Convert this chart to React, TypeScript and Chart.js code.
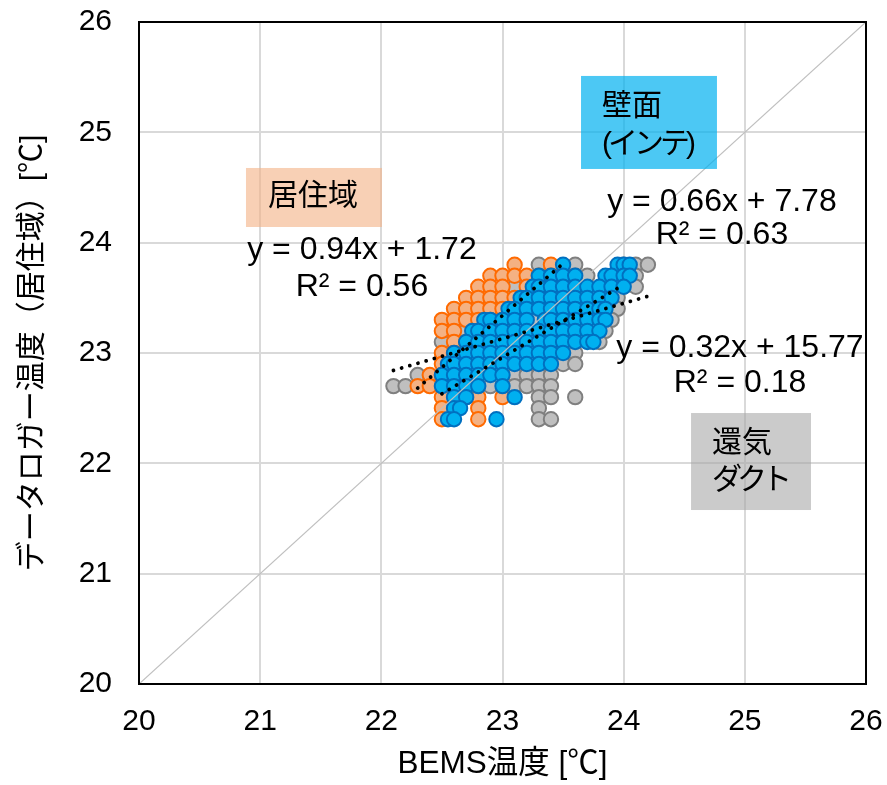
import React, { useEffect, useRef } from "react";
import { Chart, registerables } from "chart.js";

Chart.register(...registerables);

const FONT = "'Liberation Sans', Arial, 'Noto Sans CJK JP', sans-serif";

// ---- axis ----
const axisMin = 20;
const axisMax = 26;
const axisStep = 1;
const xTitle = "BEMS温度 [℃]";
const yTitle = "データロガー温度（居住域）[℃]";

// ---- series names ----
const seriesNames = ["居住域", "壁面", "還気"];

// ---- 居住域 (orange): rows of datalogger temp (y) with BEMS temps (x) ----
const residentialY = [23.8, 23.7, 23.6, 23.5, 23.4, 23.3, 23.2, 23.1, 23.0, 22.9, 22.8, 22.7, 22.6, 22.5, 22.4];
const residentialX = [
  [23.1, 23.4],
  [22.9, 23.0, 23.1, 23.2, 23.3, 23.4],
  [22.8, 22.9, 23.0, 23.2, 23.3],
  [22.7, 22.8, 22.9, 23.0, 23.1, 23.2],
  [22.6, 22.7, 22.8, 22.9, 23.0, 23.1],
  [22.5, 22.6, 22.7, 22.8, 22.9, 23.0],
  [22.5, 22.6, 22.8, 22.9],
  [22.6, 22.7, 22.8],
  [22.5, 22.6],
  [22.5, 22.6],
  [22.4, 22.5],
  [22.3, 22.4],
  [22.5, 22.8, 23.0],
  [22.5, 22.8],
  [22.5, 22.8],
];

// ---- 壁面 (blue) ----
const wallY = [23.8, 23.7, 23.6, 23.5, 23.4, 23.3, 23.2, 23.1, 23.0, 22.9, 22.8, 22.7, 22.6, 22.5, 22.4];
const wallX = [
  [23.5, 23.95, 24.0, 24.05],
  [23.3, 23.4, 23.5, 23.6, 23.85, 23.9, 24.0, 24.05],
  [23.25, 23.3, 23.4, 23.5, 23.6, 23.7, 23.8, 23.9, 24.0],
  [23.15, 23.2, 23.3, 23.4, 23.5, 23.6, 23.7, 23.8, 23.9],
  [23.05, 23.1, 23.2, 23.3, 23.4, 23.5, 23.6, 23.7, 23.8, 23.85],
  [22.85, 22.9, 23.0, 23.1, 23.2, 23.35, 23.4, 23.5, 23.6, 23.7, 23.8, 23.85],
  [22.75, 22.8, 22.9, 23.0, 23.1, 23.2, 23.3, 23.4, 23.5, 23.6, 23.7, 23.8],
  [22.7, 22.8, 22.9, 23.0, 23.1, 23.2, 23.3, 23.4, 23.5, 23.6, 23.7, 23.75],
  [22.6, 22.7, 22.8, 22.9, 23.0, 23.1, 23.2, 23.3, 23.4, 23.5],
  [22.55, 22.6, 22.7, 22.8, 22.9, 23.0, 23.1, 23.2, 23.3, 23.4],
  [22.5, 22.6, 22.7, 22.8, 22.9, 23.0],
  [22.5, 22.6, 22.7, 22.8, 23.0],
  [22.6, 22.7, 23.1],
  [22.6, 22.65],
  [22.55, 22.6, 22.95],
];

// ---- 還気ダクト (grey) ----
const ductY = [23.8, 23.7, 23.6, 23.5, 23.4, 23.3, 23.2, 23.1, 23.0, 22.9, 22.8, 22.7, 22.6, 22.5, 22.4];
const ductX = [
  [23.3, 23.6, 24.0, 24.1, 24.2],
  [23.1, 23.6, 23.7, 24.0, 24.1],
  [23.1, 23.5, 23.9, 24.0, 24.1],
  [23.3, 23.6, 23.9, 23.95],
  [23.0, 23.4, 23.9, 23.95],
  [22.9, 23.25, 23.6, 23.9],
  [22.7, 23.0, 23.5, 23.85],
  [22.5, 22.8, 23.3, 23.8],
  [22.6, 23.0, 23.6],
  [22.6, 23.0, 23.5, 23.6],
  [22.3, 22.6, 23.1, 23.2, 23.3, 23.4],
  [22.1, 22.2, 22.5, 22.9, 23.1, 23.2, 23.3, 23.4],
  [22.7, 23.3, 23.4, 23.6],
  [23.3],
  [23.3, 23.4],
];

// ---- linear trendlines: slope, intercept, R², x-range ----
const trendSlope = [0.94, 0.66, 0.32];
const trendIntercept = [1.72, 7.78, 15.77];
const trendR2 = [0.56, 0.63, 0.18];
const trendXMin = [22.3, 22.5, 22.1];
const trendXMax = [23.5, 24.0, 24.2];

const toPoints = (ys: number[], xs: number[][]) =>
  ys.flatMap((y, i) => xs[i].map((x) => ({ x, y })));

const fitLine = (i: number) => [
  { x: trendXMin[i], y: trendSlope[i] * trendXMin[i] + trendIntercept[i] },
  { x: trendXMax[i], y: trendSlope[i] * trendXMax[i] + trendIntercept[i] },
];

// ---- annotation layout (data units) ----
const boxes = [
  { x0: 20.883, x1: 22.005, y0: 24.677, y1: 24.142, color: "rgba(244,177,131,0.6)" },
  { x0: 23.648, x1: 24.77, y0: 25.511, y1: 24.668, color: "rgba(0,176,240,0.7)" },
  { x0: 24.556, x1: 25.546, y0: 22.456, y1: 21.577, color: "rgba(166,166,166,0.58)" },
];
const boxLabels = [
  { lines: ["居住域"], spacing: [0], x: 21.065, y: [24.414] },
  { lines: ["壁面", "(インテ)"], spacing: [0, -4], x: 23.821, y: [25.23, 24.885] },
  { lines: ["還気", "ダクト"], spacing: [0, -5], x: 24.729, y: [22.175, 21.84] },
];
const eqPos = [
  { x: 21.84, y: [23.934, 23.598] },
  { x: 24.811, y: [24.371, 24.072] },
  { x: 24.96, y: [23.045, 22.728] },
];

const overlayPlugin = {
  id: "overlay",
  afterDraw(chart: any) {
    const { ctx, chartArea } = chart;
    const sx = chart.scales.x;
    const sy = chart.scales.y;
    ctx.save();
    ctx.strokeStyle = "#000";
    ctx.lineWidth = 2;
    ctx.strokeRect(chartArea.left, chartArea.top, chartArea.right - chartArea.left, chartArea.bottom - chartArea.top);

    boxes.forEach((b) => {
      const x0 = sx.getPixelForValue(b.x0);
      const x1 = sx.getPixelForValue(b.x1);
      const y0 = sy.getPixelForValue(b.y0);
      const y1 = sy.getPixelForValue(b.y1);
      ctx.fillStyle = b.color;
      ctx.fillRect(x0, y0, x1 - x0, y1 - y0);
    });

    ctx.fillStyle = "#000";
    ctx.textBaseline = "middle";
    ctx.font = `30px ${FONT}`;
    ctx.textAlign = "left";
    boxLabels.forEach((l) => {
      l.lines.forEach((t, j) => {
        (ctx as any).letterSpacing = `${l.spacing[j]}px`;
        ctx.fillText(t, sx.getPixelForValue(l.x), sy.getPixelForValue(l.y[j]));
      });
    });
    (ctx as any).letterSpacing = "0px";

    ctx.font = `32px ${FONT}`;
    ctx.textAlign = "center";
    eqPos.forEach((p, i) => {
      const l1 = `y = ${trendSlope[i].toFixed(2)}x + ${trendIntercept[i].toFixed(2)}`;
      const l2 = `R² = ${trendR2[i].toFixed(2)}`;
      ctx.fillText(l1, sx.getPixelForValue(p.x), sy.getPixelForValue(p.y[0]));
      ctx.fillText(l2, sx.getPixelForValue(p.x), sy.getPixelForValue(p.y[1]));
    });
    ctx.restore();
  },
};

const zeroPad = (s: any) => {
  s.paddingTop = 0;
  s.paddingBottom = 0;
  s.paddingLeft = 0;
  s.paddingRight = 0;
};

export default function App() {
  const ref = useRef<HTMLCanvasElement | null>(null);

  useEffect(() => {
    if (!ref.current) return;
    const dotted = {
      showLine: true,
      pointRadius: 0,
      borderColor: "#000",
      borderWidth: 3.8,
      borderDash: [0.01, 8.5],
      borderCapStyle: "round",
      backgroundColor: "#000",
      order: 0,
    };
    const chart = new Chart(ref.current, {
      type: "scatter",
      data: {
        datasets: [
          { label: "1:1", data: [{ x: axisMin, y: axisMin }, { x: axisMax, y: axisMax }], showLine: true, pointRadius: 0, borderColor: "#BFBFBF", borderWidth: 1.2, order: 1 } as any,
          { label: seriesNames[1], data: toPoints(wallY, wallX), backgroundColor: "#00B0F0", borderColor: "#0070C0", borderWidth: 2, pointRadius: 7.2, order: 2 },
          { label: seriesNames[0], data: toPoints(residentialY, residentialX), backgroundColor: "#F4B183", borderColor: "#FF6A00", borderWidth: 2, pointRadius: 7.2, order: 3 },
          { label: seriesNames[2], data: toPoints(ductY, ductX), backgroundColor: "#BFBFBF", borderColor: "#7F7F7F", borderWidth: 2, pointRadius: 7.2, order: 4 },
          { label: "trend " + seriesNames[0], data: fitLine(0), ...dotted } as any,
          { label: "trend " + seriesNames[1], data: fitLine(1), ...dotted } as any,
          { label: "trend " + seriesNames[2], data: fitLine(2), ...dotted } as any,
        ],
      },
      options: {
        animation: false,
        responsive: false,
        devicePixelRatio: 1,
        events: [],
        layout: { padding: { top: 22, right: 21, bottom: 0, left: 0 } },
        plugins: { legend: { display: false }, tooltip: { enabled: false } },
        scales: {
          x: {
            type: "linear",
            min: axisMin,
            max: axisMax,
            ticks: { stepSize: axisStep, font: { size: 30, family: FONT }, color: "#000", padding: 20, maxRotation: 0 },
            grid: { color: "#D9D9D9", lineWidth: 2, drawTicks: false },
            border: { display: false },
            title: { display: true, text: xTitle, color: "#000", font: { size: 31.5, family: FONT }, padding: { top: 0, bottom: 2 } },
            afterFit: (s: any) => { s.height = 101; zeroPad(s); },
          },
          y: {
            type: "linear",
            min: axisMin,
            max: axisMax,
            ticks: { stepSize: axisStep, font: { size: 30, family: FONT }, color: "#000", padding: 27 },
            grid: { color: "#D9D9D9", lineWidth: 2, drawTicks: false },
            border: { display: false },
            title: { display: true, text: yTitle, color: "#000", font: { size: 30, family: FONT }, padding: { top: 15, bottom: 0 } },
            afterFit: (s: any) => { s.width = 139; zeroPad(s); },
          },
        },
      },
      plugins: [overlayPlugin],
    } as any);
    return () => chart.destroy();
  }, []);

  return (
    <div style={{ position: "absolute", left: 0, top: 0, width: 887, height: 785, background: "#fff" }}>
      <canvas ref={ref} width={887} height={785} style={{ display: "block" }} />
    </div>
  );
}
